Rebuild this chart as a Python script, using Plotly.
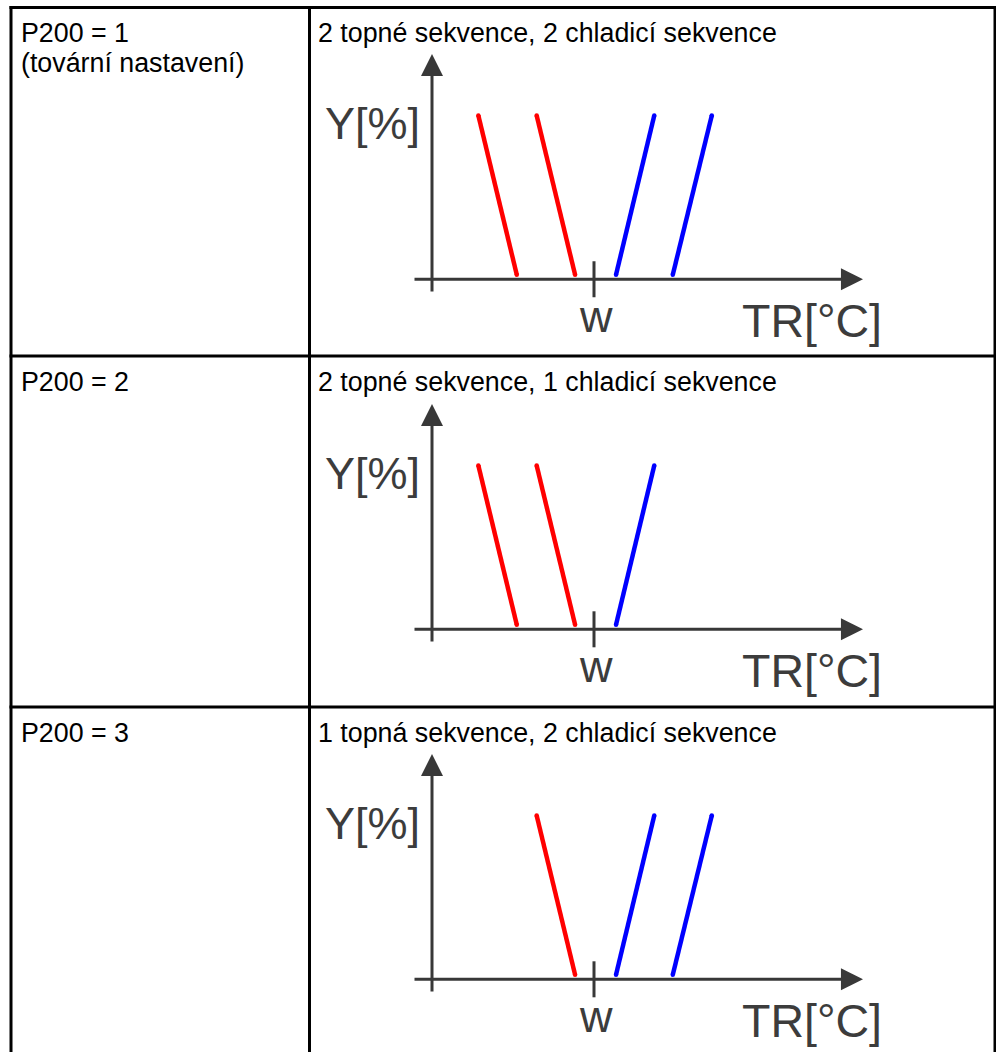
import plotly.graph_objects as go

W, H = 996, 1052

# ---------------- data ----------------
param_labels = ["P200 = 1", "P200 = 2", "P200 = 3"]
param_notes = ["(tovární nastavení)", "", ""]
panel_titles = [
    "2 topné sekvence, 2 chladicí sekvence",
    "2 topné sekvence, 1 chladicí sekvence",
    "1 topná sekvence, 2 chladicí sekvence",
]
# heating (red) sequences: TR offset from w at Y = 100 % and at Y = 0 %
heat_t_at_100 = [[-5.93, -2.94], [-5.93, -2.94], [-2.94]]
heat_t_at_0 = [[-3.96, -0.97], [-3.96, -0.97], [-0.97]]
# cooling (blue) sequences
cool_t_at_100 = [[3.09, 6.04], [3.09], [3.09, 6.04]]
cool_t_at_0 = [[1.13, 4.04], [1.13], [1.13, 4.04]]
y_top, y_bottom = 100, 0
x_label = "TR[°C]"
y_label = "Y[%]"
setpoint_label = "w"

# ---------------- layout constants ----------------
ROW_TOPS = [7.5, 356, 707]
AXIS_PX = [279.3, 629.3, 979.3]
PX_PER_T = 19.5
W_PX = 594.0
PX_PER_PCT = 1.593
ZERO_GAP = 4.5
DOM_X = (320, 990)
AX_COL = "#383838"
RED = "#ff0000"
BLUE = "#0000ff"
TABLE_FONT = dict(family="Liberation Sans, Arial, sans-serif", size=26.8, color="#000000")
DIAG_FONT = dict(family="Liberation Sans, Arial, sans-serif", size=45, color="#3c3c3c")


def px2paper_x(px):
    return px / W


def px2paper_y(py):
    return 1 - py / H


def t_of(px):
    return (px - W_PX) / PX_PER_T


def y_of(rel):
    # rel = pixel offset below the horizontal axis (positive = down)
    return (-ZERO_GAP - rel) / PX_PER_PCT


fig = go.Figure()
annotations = []
shapes = []

for i in range(3):
    xa = "x" if i == 0 else f"x{i+1}"
    ya = "y" if i == 0 else f"y{i+1}"
    top_p = ROW_TOPS[i] + 4
    bot_p = min(ROW_TOPS[i] + 348, H - 1)
    y0px = AXIS_PX[i] - ZERO_GAP
    xr = [t_of(DOM_X[0]), t_of(DOM_X[1])]
    yr = [(y0px - bot_p) / PX_PER_PCT, (y0px - top_p) / PX_PER_PCT]
    axkey = "xaxis" if i == 0 else f"xaxis{i+1}"
    aykey = "yaxis" if i == 0 else f"yaxis{i+1}"
    fig.update_layout(**{
        axkey: dict(domain=[px2paper_x(DOM_X[0]), px2paper_x(DOM_X[1])], range=xr,
                    visible=False, fixedrange=True, anchor=ya),
        aykey: dict(domain=[px2paper_y(bot_p), px2paper_y(top_p)], range=yr,
                    visible=False, fixedrange=True, anchor=xa),
    })

    for tt, tb in zip(heat_t_at_100[i], heat_t_at_0[i]):
        fig.add_trace(go.Scatter(x=[tt, tb], y=[y_top, y_bottom], mode="lines+markers",
                                 line=dict(color=RED, width=4.5),
                                 marker=dict(color=RED, size=4.5),
                                 xaxis=xa, yaxis=ya, showlegend=False, hoverinfo="skip"))
    for tt, tb in zip(cool_t_at_100[i], cool_t_at_0[i]):
        fig.add_trace(go.Scatter(x=[tt, tb], y=[y_top, y_bottom], mode="lines+markers",
                                 line=dict(color=BLUE, width=4.5),
                                 marker=dict(color=BLUE, size=4.5),
                                 xaxis=xa, yaxis=ya, showlegend=False, hoverinfo="skip"))

    # horizontal (TR) axis arrow
    annotations.append(dict(xref=xa, yref=ya, axref=xa, ayref=ya,
                            x=t_of(863), y=y_of(0), ax=t_of(413), ay=y_of(0),
                            text="", showarrow=True, arrowhead=2, arrowwidth=3,
                            arrowsize=1.47, arrowcolor=AX_COL))
    # vertical (Y) axis arrow
    annotations.append(dict(xref=xa, yref=ya, axref=xa, ayref=ya,
                            x=t_of(432), y=y_of(-225.3), ax=t_of(432), ay=y_of(13.7),
                            text="", showarrow=True, arrowhead=2, arrowwidth=3,
                            arrowsize=1.47, arrowcolor=AX_COL))
    # setpoint tick
    shapes.append(dict(type="line", xref=xa, yref=ya, x0=0, x1=0,
                       y0=y_of(-18), y1=y_of(18), line=dict(color=AX_COL, width=3)))
    # diagram labels
    annotations.append(dict(xref=xa, yref=ya, x=t_of(421), y=y_of(123 - 279.3),
                            text=y_label, showarrow=False, xanchor="right", yanchor="middle",
                            font=DIAG_FONT, borderpad=0))
    annotations.append(dict(xref=xa, yref=ya, x=t_of(596), y=y_of(37.5),
                            text=setpoint_label, showarrow=False, xanchor="center",
                            yanchor="middle", font=DIAG_FONT, borderpad=0))
    annotations.append(dict(xref=xa, yref=ya, x=t_of(741), y=y_of(42.1),
                            text=x_label, showarrow=False, xanchor="left", yanchor="middle",
                            font=dict(DIAG_FONT, size=46.5), borderpad=0))

    # table texts
    base = ROW_TOPS[i] + 34.5
    annotations.append(dict(xref="paper", yref="paper", x=px2paper_x(20),
                            y=px2paper_y(base - 9), text=param_labels[i], showarrow=False,
                            xanchor="left", yanchor="middle", font=TABLE_FONT, borderpad=0))
    if param_notes[i]:
        annotations.append(dict(xref="paper", yref="paper", x=px2paper_x(20),
                                y=px2paper_y(base + 30 - 9), text=param_notes[i],
                                showarrow=False, xanchor="left", yanchor="middle",
                                font=TABLE_FONT, borderpad=0))
    annotations.append(dict(xref="paper", yref="paper", x=px2paper_x(317),
                            y=px2paper_y(base - 9), text=panel_titles[i], showarrow=False,
                            xanchor="left", yanchor="middle", font=TABLE_FONT, borderpad=0))

# table grid
def hline(py, x0, x1):
    shapes.append(dict(type="line", xref="paper", yref="paper",
                       x0=px2paper_x(x0), x1=px2paper_x(x1),
                       y0=px2paper_y(py), y1=px2paper_y(py),
                       line=dict(color="#000000", width=3)))


def vline(px, y0, y1):
    shapes.append(dict(type="line", xref="paper", yref="paper",
                       x0=px2paper_x(px), x1=px2paper_x(px),
                       y0=px2paper_y(y0), y1=px2paper_y(y1),
                       line=dict(color="#000000", width=3)))


for rt in ROW_TOPS:
    hline(rt, 9.5, 996.5)
vline(11, 6, H + 5)
vline(309.5, 6, H + 5)
vline(995, 6, H + 5)

fig.update_layout(width=W, height=H, autosize=False,
                  margin=dict(l=0, r=0, t=0, b=0),
                  paper_bgcolor="white", plot_bgcolor="rgba(0,0,0,0)",
                  annotations=annotations, shapes=shapes, showlegend=False)

fig.write_html("out.html", config={"displayModeBar": False, "staticPlot": True},
               post_script="document.body.style.margin='0';document.body.style.overflow='hidden';")
